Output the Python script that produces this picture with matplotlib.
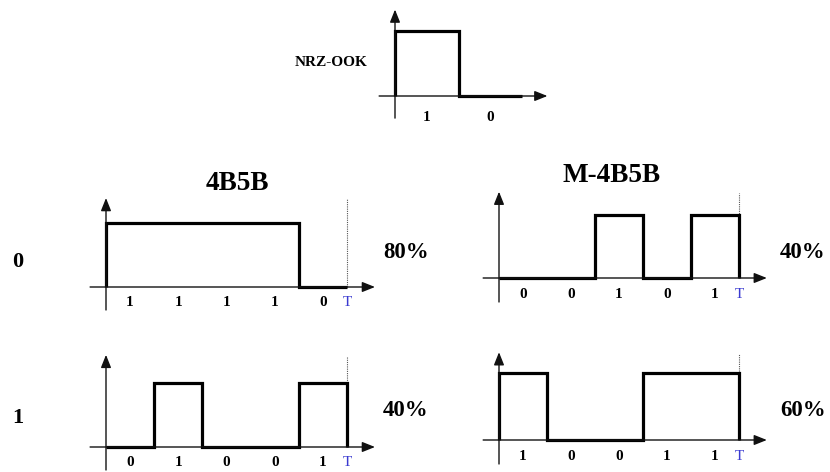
import matplotlib
matplotlib.use("Agg")
import matplotlib.pyplot as plt
import numpy as np

# ---- data ----
nrz_bits = [1, 0]
code_4b5b = {"0": [1, 1, 1, 1, 0], "1": [0, 1, 0, 0, 1]}
code_m4b5b = {"0": [0, 0, 1, 0, 1], "1": [1, 0, 0, 1, 1]}
ratio_4b5b = {"0": "80%", "1": "40%"}
ratio_m4b5b = {"0": "40%", "1": "60%"}
row_labels = ["0", "1"]
titles = ["4B5B", "M-4B5B"]

W, H = 830, 472
DPI = 100
fig = plt.figure(figsize=(W / DPI, H / DPI), dpi=DPI)
SERIF = ["Liberation Serif", "DejaVu Serif"]

bg = fig.add_axes([0, 0, 1, 1])
bg.set_xlim(0, W)
bg.set_ylim(H, 0)
bg.axis("off")

AX_COL = "#111111"


def panel(x0, y0, bitpx, levpx, bits, show_T=True, lab_off=0.25,
          xl=-0.33, xr=None, yb=-0.36, yt=1.38):
    n = len(bits)
    if xr is None:
        xr = n + 0.58
    xmin, xmax, ymin, ymax = -0.6, n + 1.0, -0.7, 1.6
    left = (x0 + xmin * bitpx) / W
    width = (xmax - xmin) * bitpx / W
    bottom = (H - (y0 - ymin * levpx)) / H
    height = (ymax - ymin) * levpx / H
    ax = fig.add_axes([left, bottom, width, height])
    ax.set_xlim(xmin, xmax)
    ax.set_ylim(ymin, ymax)
    ax.axis("off")
    # axes with arrows
    ax.annotate("", xy=(xr, 0), xytext=(xl, 0),
                arrowprops=dict(arrowstyle="-|>,head_length=0.55,head_width=0.22",
                                lw=1.0, color=AX_COL,
                                mutation_scale=14, shrinkA=0, shrinkB=0))
    ax.annotate("", xy=(0, yt), xytext=(0, yb),
                arrowprops=dict(arrowstyle="-|>,head_length=0.55,head_width=0.22",
                                lw=1.0, color=AX_COL,
                                mutation_scale=14, shrinkA=0, shrinkB=0))
    # signal
    xs, ys = [0], [0]
    for i, b in enumerate(bits):
        xs += [i, i + 1]
        ys += [b, b]
    xs.append(n)
    ys.append(0)
    if show_T:
        ax.plot([n, n], [0, yt - 0.02], ls=(0, (1, 1)), lw=0.8, color="#555555")
    ax.plot(xs, ys, color="black", lw=2.3, solid_joinstyle="miter",
            solid_capstyle="butt")
    for i, b in enumerate(bits):
        ax.text(i + 0.5, -lab_off, str(b), ha="center", va="center",
                fontsize=11, family=SERIF, fontweight="bold")
    if show_T:
        ax.text(n, -lab_off, "T", ha="center", va="center", fontsize=11,
                family=SERIF, color="#3a3ad0")
    return ax


# NRZ-OOK
panel(395, 96, 63.5, 65, nrz_bits, show_T=False, lab_off=0.33,
      xl=-0.25, xr=2.4, yb=-0.34, yt=1.33)
bg.text(331, 62, "NRZ-OOK", ha="center", va="center", fontsize=11,
        family=SERIF, fontweight="bold")

# rows
row_cfg = [
    (287, 64, 1.39, 278, 63, 1.37, 262, 252),
    (447, 64, 1.44, 440, 67, 1.31, 418, 410),
]
for r, key in enumerate(row_labels):
    y4, l4, t4, ym, lm, tm, yrow, ypct = row_cfg[r]
    panel(106, y4, 48.2, l4, code_4b5b[key], lab_off=16 / l4, yt=t4,
          yb=-23 / l4)
    panel(499, ym, 48.0, lm, code_m4b5b[key], lab_off=16 / lm, yt=tm,
          yb=-24 / lm)
    bg.text(18, yrow, key, ha="center", va="center", fontsize=16,
            family=SERIF, fontweight="bold")
    bg.text(406, ypct, ratio_4b5b[key], ha="center", va="center",
            fontsize=16.5, family=SERIF, fontweight="bold")
    bg.text(803, ypct, ratio_m4b5b[key], ha="center", va="center",
            fontsize=16.5, family=SERIF, fontweight="bold")

bg.text(237, 183, titles[0], ha="center", va="center", fontsize=19.5,
        family=SERIF, fontweight="bold")
bg.text(612, 175, titles[1], ha="center", va="center", fontsize=19.5,
        family=SERIF, fontweight="bold")

fig.savefig("out.png", dpi=DPI)
